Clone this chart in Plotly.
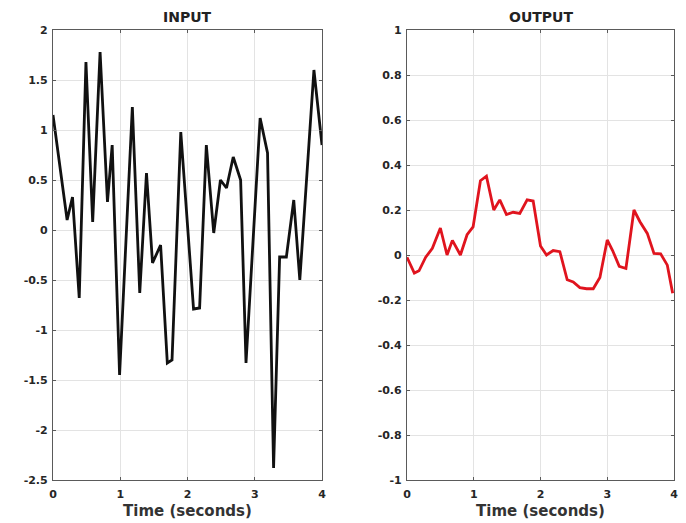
import plotly.graph_objects as go

# Input signal (time in seconds, amplitude)
t_in = [0.0, 0.21, 0.29, 0.39, 0.49, 0.59, 0.70, 0.81, 0.88, 0.99, 1.18, 1.29, 1.39,
        1.48, 1.60, 1.70, 1.77, 1.90, 2.09, 2.18, 2.28, 2.39, 2.49, 2.58, 2.68, 2.79,
        2.87, 3.08, 3.19, 3.28, 3.37, 3.47, 3.58, 3.67, 3.81, 3.88, 4.0]
v_in = [1.15, 0.10, 0.33, -0.68, 1.68, 0.08, 1.78, 0.28, 0.85, -1.45, 1.23, -0.63, 0.57,
        -0.33, -0.15, -1.33, -1.30, 0.98, -0.79, -0.78, 0.85, -0.03, 0.50, 0.42, 0.73, 0.50,
        -1.33, 1.12, 0.77, -2.38, -0.27, -0.27, 0.30, -0.50, 0.90, 1.60, 0.85]

# Output signal
t_out = [0.0, 0.11, 0.18, 0.28, 0.38, 0.50, 0.60, 0.68, 0.80, 0.90, 0.99, 1.10, 1.19,
         1.30, 1.39, 1.49, 1.59, 1.69, 1.80, 1.89, 2.00, 2.09, 2.19, 2.29, 2.40, 2.49,
         2.59, 2.69, 2.79, 2.89, 3.00, 3.08, 3.18, 3.28, 3.40, 3.49, 3.60, 3.70, 3.80,
         3.90, 3.98]
v_out = [-0.01, -0.08, -0.07, -0.01, 0.03, 0.12, 0.0, 0.065, 0.0, 0.09, 0.125, 0.33, 0.35,
         0.20, 0.245, 0.18, 0.19, 0.185, 0.245, 0.24, 0.04, 0.0, 0.02, 0.015, -0.11, -0.12,
         -0.145, -0.15, -0.15, -0.10, 0.067, 0.02, -0.05, -0.06, 0.20, 0.148, 0.096, 0.007,
         0.005, -0.045, -0.17]

x_ticks = [0, 1, 2, 3, 4]
y_ticks_in = [2, 1.5, 1, 0.5, 0, -0.5, -1, -1.5, -2, -2.5]
y_ticks_out = [1, 0.8, 0.6, 0.4, 0.2, 0, -0.2, -0.4, -0.6, -0.8, -1]

# page has an 8px body margin; figure is sized to fit inside the 686x523 window
W, H = 678, 515
L1, R1 = 45, 314
L2, R2 = 399, 666
FONT = "DejaVu Sans, Liberation Sans, Arial"

fig = go.Figure()
fig.add_trace(go.Scatter(x=t_in, y=v_in, mode="lines",
                         line=dict(color="#111111", width=2.8), xaxis="x", yaxis="y"))
fig.add_trace(go.Scatter(x=t_out, y=v_out, mode="lines",
                         line=dict(color="#e0141e", width=2.8), xaxis="x2", yaxis="y2"))

tickfont = dict(family=FONT, size=11, color="#262626", weight="bold")
common_x = dict(range=[0, 4], tickvals=x_ticks, ticktext=[str(v) for v in x_ticks],
                showgrid=True, gridcolor="#e3e3e3", gridwidth=1,
                showline=True, linecolor="#5a5a5a", linewidth=1.2, mirror="ticks",
                ticks="inside", ticklen=3, tickcolor="#5a5a5a", tickfont=tickfont,
                ticklabelstandoff=4,
                zeroline=False, fixedrange=True, automargin=False,
                title=dict(text="Time (seconds)", standoff=5,
                           font=dict(family=FONT, size=15, color="#333333", weight="bold")))
common_y = dict(showgrid=True, gridcolor="#e3e3e3", gridwidth=1,
                showline=True, linecolor="#5a5a5a", linewidth=1.2, mirror="ticks",
                ticks="inside", ticklen=3, tickcolor="#5a5a5a", tickfont=tickfont,
                ticklabelstandoff=2,
                zeroline=False, fixedrange=True, automargin=False)

fig.update_layout(
    width=W, height=H,
    margin=dict(l=0, r=0, t=22, b=43, autoexpand=False),
    paper_bgcolor="white", plot_bgcolor="white",
    showlegend=False,
    xaxis=dict(domain=[L1 / W, R1 / W], anchor="y", **common_x),
    yaxis=dict(domain=[0, 1], anchor="x", range=[-2.5, 2], tickvals=y_ticks_in,
               ticktext=[("%g" % v) for v in y_ticks_in], **common_y),
    xaxis2=dict(domain=[L2 / W, R2 / W], anchor="y2", **common_x),
    yaxis2=dict(domain=[0, 1], anchor="x2", range=[-1, 1], tickvals=y_ticks_out,
                ticktext=[("%g" % v) for v in y_ticks_out], **common_y),
    annotations=[
        dict(text="INPUT", x=(L1 + R1) / 2 / W, y=1, xref="paper", yref="paper",
             xanchor="center", yanchor="bottom", yshift=3, showarrow=False,
             font=dict(family=FONT, size=14, color="#222222", weight="bold")),
        dict(text="OUTPUT", x=(L2 + R2) / 2 / W, y=1, xref="paper", yref="paper",
             xanchor="center", yanchor="bottom", yshift=3, showarrow=False,
             font=dict(family=FONT, size=14, color="#222222", weight="bold")),
    ],
)

fig.write_html("out.html", config={"displayModeBar": False})
